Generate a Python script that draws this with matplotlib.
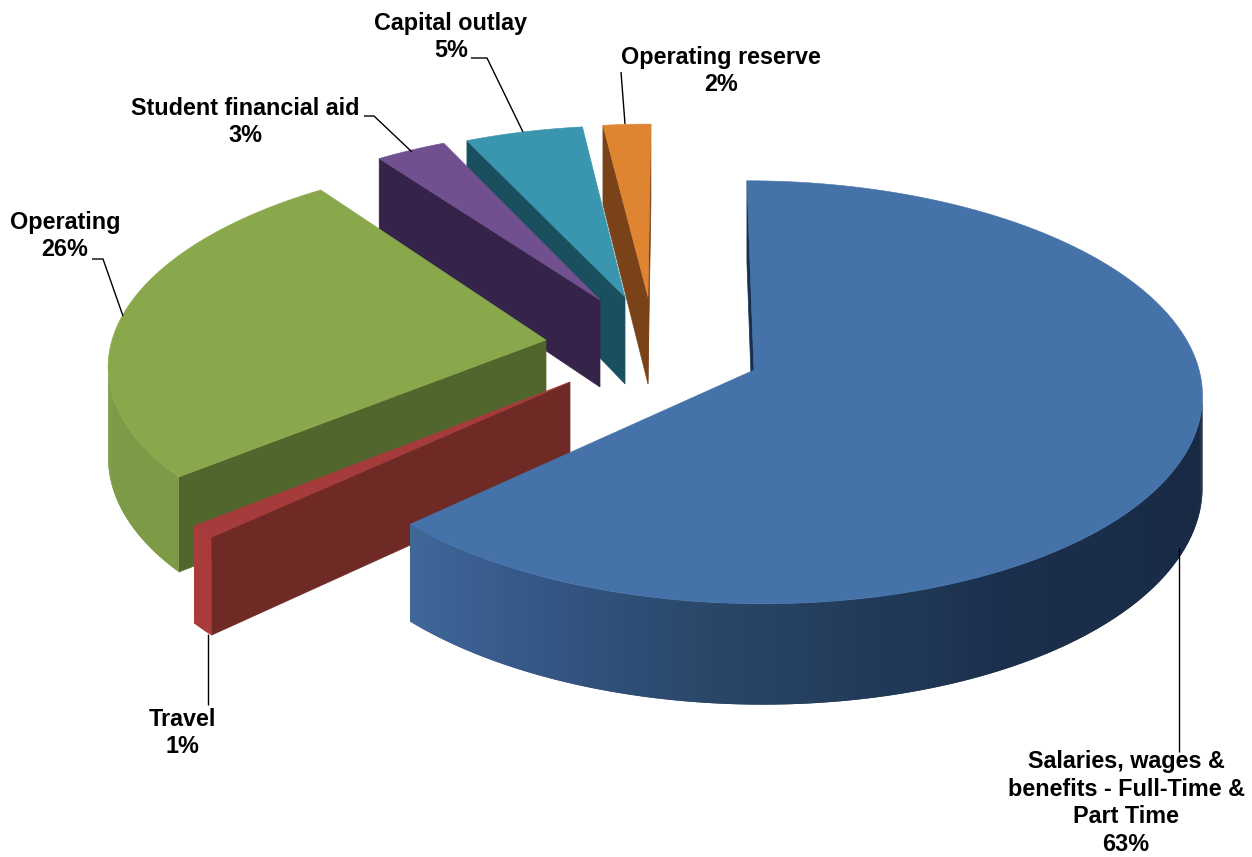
import numpy as np
import matplotlib
matplotlib.use("Agg")
import matplotlib.pyplot as plt
from matplotlib.colors import to_rgb

# Budget shares, drawn clockwise from twelve o'clock
categories = ["Salaries, wages &\nbenefits - Full-Time &\nPart Time", "Travel", "Operating",
              "Student financial aid", "Capital outlay", "Operating reserve"]
values = [63, 1, 26, 3, 5, 2]

# Where each slice's tip lands on the canvas once it is pulled out of the pie,
# and how far its rim reaches relative to the nominal radius
tips = [(754, 370), (570, 382), (546, 340), (600, 300), (625, 297), (648, 297)]
reach = [0.995, 0.99, 0.985, 0.965, 0.965, 0.975]

top_colors = ["#4472a9", "#a63b3c", "#89a84c", "#71508f", "#3a95ae", "#df8532"]
cut_colors = ["#16304f", "#702a25", "#51662c", "#35234a", "#1a4f5f", "#7a4218"]
rim_stops = [
    [(90, "#16273f"), (150, "#1b2f4d"), (185, "#294667"), (210, "#37598a"), (227, "#3f6899")],
    [(0, "#a93c3b"), (360, "#a93c3b")],
    [(0, "#7d9a46"), (360, "#7d9a46")],
    [(0, "#35234a"), (360, "#35234a")],
    [(0, "#1a4f5f"), (360, "#1a4f5f")],
    [(0, "#7a4218"), (360, "#7a4218")],
]

# Pinhole camera looking down on the pie
VANISH_X = 680
HORIZON_Y = -1614
DEPTH = 9.44
FOCAL_X = 4222
TOP_PLANE = 18725
BOTTOM_PLANE = 19576


def world_from_tip(tip):
    depth = TOP_PLANE / (tip[1] - HORIZON_Y)
    return (tip[0] - VANISH_X) * depth / FOCAL_X, depth - DEPTH


def project(x, v, plane):
    depth = DEPTH + np.asarray(v)
    return VANISH_X + FOCAL_X * np.asarray(x) / depth, HORIZON_Y + plane / depth


def blend(stops, angle):
    angles = [s[0] for s in stops]
    rgb = np.array([to_rgb(s[1]) for s in stops])
    return tuple(np.interp(angle, angles, rgb[:, i]) for i in range(3))


fig = plt.figure(figsize=(12.52, 8.57), dpi=100)
ax = fig.add_axes([0, 0, 1, 1])
ax.set_xlim(0, 1252)
ax.set_ylim(857, 0)
ax.axis("off")

bounds = np.concatenate([[0], np.cumsum(values)]) / np.sum(values) * 360
slices = list(zip(bounds[:-1], bounds[1:], tips, reach, top_colors, cut_colors, rim_stops))

# Painter's order: rear slices first, the large front slice last
for start, end, tip, r, top, cut, stops in reversed(slices):
    tx, tv = world_from_tip(tip)
    cam = np.array([-tx, -DEPTH - tv])

    # Straight cut faces, only when turned toward the camera
    for ang, sign in ((start, -1), (end, 1)):
        t = np.radians(ang)
        normal = sign * np.array([np.cos(t), -np.sin(t)])
        if normal @ cam > 0:
            xs = np.array([tx, tx + r * np.sin(t)])
            vs = np.array([tv, tv + r * np.cos(t)])
            x1, y1 = project(xs, vs, TOP_PLANE)
            x2, y2 = project(xs, vs, BOTTOM_PLANE)
            ax.fill(np.r_[x1, x2[::-1]], np.r_[y1, y2[::-1]], color=cut, lw=0.5, zorder=2)

    # Curved outer wall: each strip runs under the next one so no seams show
    arc = np.linspace(start, end, max(int((end - start) * 2), 2) + 1)
    for i in range(len(arc) - 1):
        a0, a1 = arc[i], arc[min(i + 2, len(arc) - 1)]
        mid = np.radians((arc[i] + arc[i + 1]) / 2)
        out = r * np.array([np.sin(mid), np.cos(mid)])
        if out @ (cam - out) > 0:
            tt = np.radians(np.linspace(a0, a1, 4))
            xs = tx + r * np.sin(tt)
            vs = tv + r * np.cos(tt)
            x1, y1 = project(xs, vs, TOP_PLANE)
            x2, y2 = project(xs, vs, BOTTOM_PLANE)
            ax.fill(np.r_[x1, x2[::-1]], np.r_[y1, y2[::-1]],
                    color=blend(stops, np.degrees(mid)), lw=0, zorder=2)

    # Upper face
    tt = np.radians(np.linspace(start, end, 240))
    xs = np.r_[tx, tx + r * np.sin(tt)]
    vs = np.r_[tv, tv + r * np.cos(tt)]
    px, py = project(xs, vs, TOP_PLANE)
    ax.fill(px, py, color=top, lw=0.4, zorder=2)

# Callouts
label_font = dict(family="Liberation Sans", fontweight="bold", fontsize=16.8,
                  ha="center", va="center", color="black", linespacing=1.26)
label_spots = [(1126, 803), (182, 733), (65, 236), (245, 122), (451, 37), (721, 71)]
leaders = [
    [(1179, 548), (1179, 752)],
    [(208, 634), (208, 705)],
    [(123, 316), (103, 259), (92, 259)],
    [(412, 152), (374, 116), (364, 116)],
    [(523, 132), (487, 58), (471, 58)],
    [(625, 124), (621, 72)],
]
for name, value, spot, path in zip(categories, values, label_spots, leaders):
    ax.text(spot[0], spot[1], f"{name}\n{value}%", zorder=5, **label_font)
    lx, ly = zip(*path)
    ax.plot(lx, ly, color="black", lw=1.0, zorder=4, solid_capstyle="butt")

fig.savefig("out.png", dpi=100, facecolor="white")
